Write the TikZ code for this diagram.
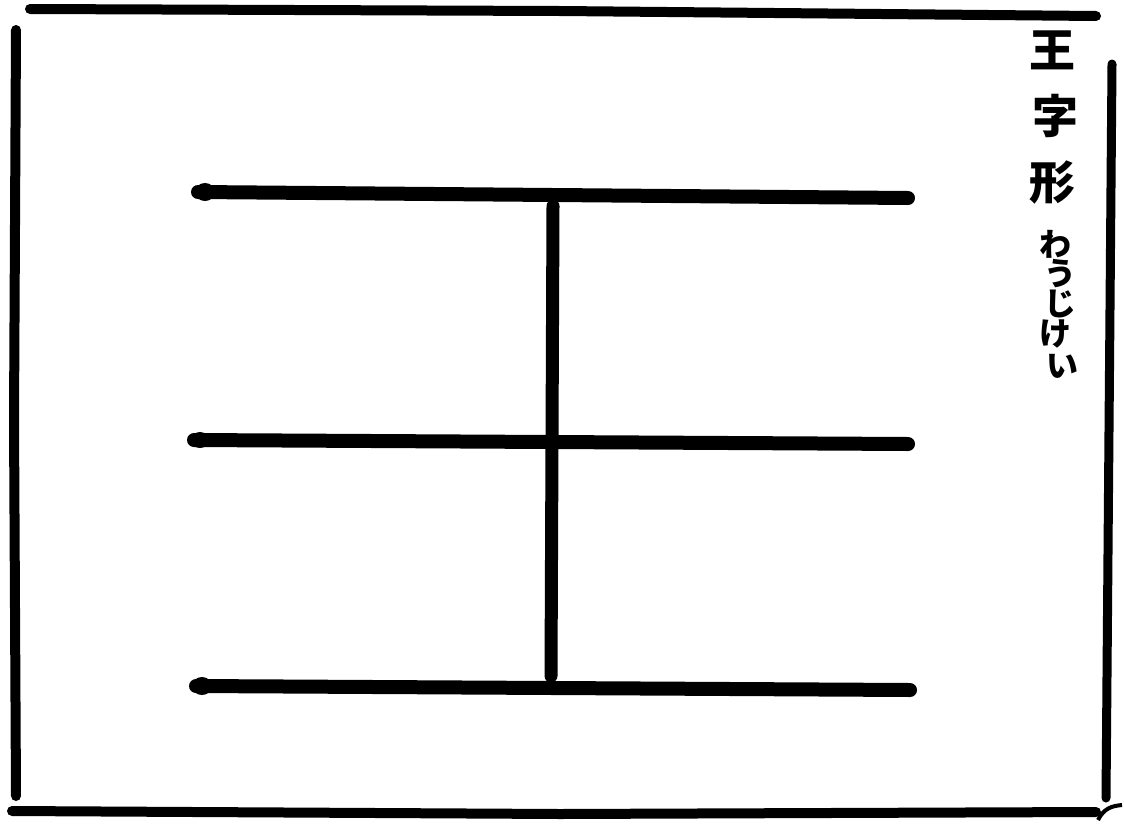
\documentclass[tikz,border=0pt]{standalone}
\usepackage{fontspec}
\newfontfamily\cjk{Noto Sans CJK JP}
\begin{document}
\begin{tikzpicture}[x=1pt,y=-1pt,
  frame/.style={line width=10pt,line cap=round,black},
  bar/.style={line width=14pt,line cap=round,black},
  stem/.style={line width=13pt,line cap=round,black},
  big/.style={font=\cjk\bfseries\fontsize{46}{46}\selectfont,inner sep=0pt},
  kana/.style={font=\cjk\bfseries\fontsize{32}{32}\selectfont,inner sep=0pt}]
\useasboundingbox[fill=white] (0,0) rectangle (1124,825);
% frame
\draw[frame] (30,9) -- (560,11) -- (1096,16);
\draw[frame] (16,30) -- (14,420) -- (16,796);
\draw[frame] (12,811) -- (560,814) -- (1096,812);
\draw[frame,line width=9pt] (1112,64) -- (1109,430) -- (1106,798);
\draw[line width=4pt] (1098,820) .. controls (1104,808) and (1112,806) .. (1122,805);
% bars
\draw[bar] (198,192) -- (908,198);
\fill (205,192) ellipse (10 and 9);
\draw[bar] (194,440) -- (908,444);
\fill (200,440) ellipse (9 and 8);
\draw[bar] (196,686) -- (910,690);
\fill (202,686) ellipse (10 and 9);
\draw[stem] (553,206) -- (551,676);
% title
\node[big] (t1) at (1052,50) {王};
\node[big] (t2) at (1055,116) {字};
\node[big] (t3) at (1052,183) {形};
\node[kana] (k1) at (1055,244) {わ};
\node[kana] (k2) at (1060,274) {う};
\node[kana] (k3) at (1060,304) {じ};
\node[kana] (k4) at (1055,334) {け};
\node[kana] (k5) at (1062,366) {い};
\end{tikzpicture}
\end{document}
